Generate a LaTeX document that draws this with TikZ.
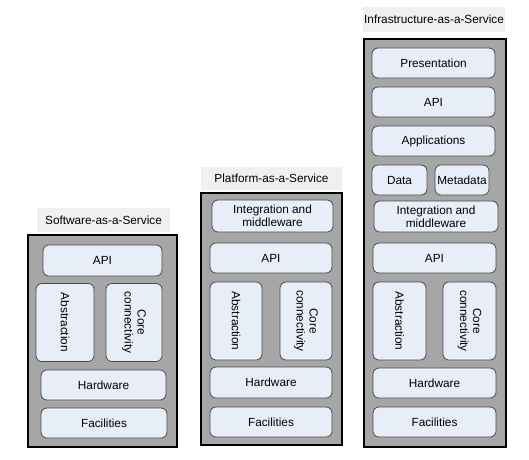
\documentclass[tikz,border=0pt]{standalone}
\usepackage{fontspec}
\setmainfont{Liberation Sans}
\definecolor{stackgray}{HTML}{A6A6A6}
\definecolor{layerfill}{HTML}{E8EEF8}
\definecolor{layerline}{HTML}{4A4A4A}
\definecolor{captionbg}{HTML}{F0F0F0}
\begin{document}
\begin{tikzpicture}[x=1pt,y=-1pt,
    every node/.style={inner sep=0pt,font=\fontsize{11.8}{12.8}\selectfont,text=black},
    caption/.style={fill=captionbg,minimum height=24pt},
    stack/.style={draw=black,fill=stackgray,line width=1.1pt},
    layer/.style={draw=layerline,fill=layerfill,line width=0.8pt,rounded corners=6pt,
      align=center,minimum height=30pt},
    upright/.style={layer,rotate=-90,minimum width=78pt}]
  \useasboundingbox (0,0) rectangle (529,459);
  % software-as-a-service
  \node[caption,minimum width=133pt] (saastitle) at (103.5,220) {Software-as-a-Service};
  \node[stack,minimum width=149pt,minimum height=212pt] (saas) at (102.5,341) {};
  \node[layer,minimum width=119pt,minimum height=31pt] (saasapi) at (102.5,260.5) {API};
  \node[upright,minimum height=58pt] (saasabs) at (65,322.5) {Abstraction};
  \node[upright,minimum height=56pt] (saascore) at (134,322.5) {Core\\connectivity};
  \node[layer,minimum width=125pt] (saashw) at (103.5,385) {Hardware};
  \node[layer,minimum width=126pt] (saasfac) at (104,423) {Facilities};
  % platform-as-a-service
  \node[caption,minimum width=141pt,minimum height=23pt] (paastitle) at (271.5,178.5) {Platform-as-a-Service};
  \node[stack,minimum width=141pt,minimum height=252pt] (paas) at (271.5,319) {};
  \node[layer,minimum width=121pt,minimum height=32pt] (paasint) at (272.5,216) {Integration and\\middleware};
  \node[layer,minimum width=122pt] (paasapi) at (271,258) {API};
  \node[upright,minimum height=52pt] (paasabs) at (236,321) {Abstraction};
  \node[upright,minimum height=52pt] (paascore) at (306,321) {Core\\connectivity};
  \node[layer,minimum width=122pt,minimum height=31pt] (paashw) at (271,382.5) {Hardware};
  \node[layer,minimum width=122pt] (paasfac) at (271,422) {Facilities};
  % infrastructure-as-a-service
  \node[caption,minimum width=142pt,minimum height=25pt] (iaastitle) at (434,19.5) {Infrastructure-as-a-Service};
  \node[stack,minimum width=142pt,minimum height=408pt] (iaas) at (435,243) {};
  \node[layer,minimum width=123pt] (iaaspres) at (433.5,63) {Presentation};
  \node[layer,minimum width=123pt] (iaasapitop) at (433.5,102) {API};
  \node[layer,minimum width=123pt] (iaasapps) at (433.5,141) {Applications};
  \node[layer,minimum width=55pt] (iaasdata) at (399.5,180) {Data};
  \node[layer,minimum width=54pt] (iaasmeta) at (462,180) {Metadata};
  \node[layer,minimum width=124pt,minimum height=31pt] (iaasint) at (436,216.5) {Integration and\\middleware};
  \node[layer,minimum width=123pt] (iaasapi) at (434.5,258) {API};
  \node[upright,minimum height=53pt] (iaasabs) at (399.5,321) {Abstraction};
  \node[upright,minimum height=53pt] (iaascore) at (469.5,321) {Core\\connectivity};
  \node[layer,minimum width=123pt] (iaashw) at (434.5,383) {Hardware};
  \node[layer,minimum width=123pt] (iaasfac) at (434.5,422) {Facilities};
\end{tikzpicture}
\end{document}
